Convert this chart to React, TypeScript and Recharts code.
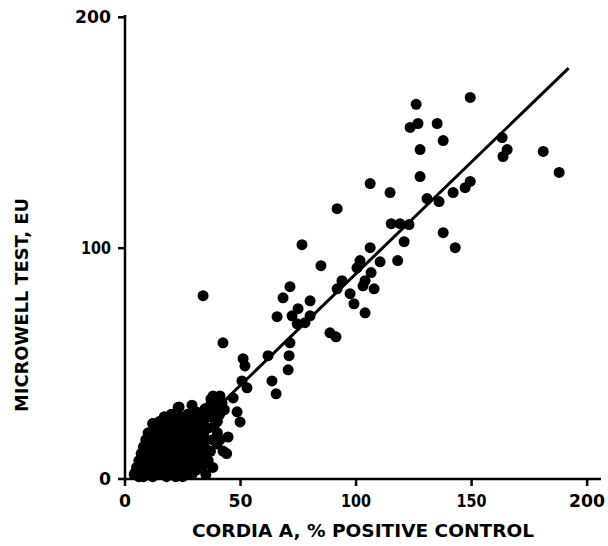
import { ScatterChart, Scatter, XAxis, YAxis, ReferenceLine } from "recharts";

// values, x = Cordia A (% positive control), y = microwell test (EU)
const cordiaA = [
  126, 149.4, 123.4, 126.8, 135.1, 137.7, 127.7, 127.7, 130.7, 135.9, 142, 147.2, 149.4,
  163.2, 165.4, 163.6, 181, 187.9, 119, 122.9, 115.2, 120.8, 137.7, 142.9, 118, 106.1,
  114.7, 91.8, 76.6, 106.1, 110.4, 101.7, 100.4, 84.8, 71.4, 68.4, 80.1, 93.9, 91.8, 106.5,
  103.9, 103, 107.8, 97.4, 99.1, 103.9, 74.9, 72.3, 65.8, 80.1, 74.5, 77.9, 88.7, 91.3,
  71.4, 61.9, 71, 70.6, 63.6, 65.4, 33.8, 42.4, 51.1, 51.9, 50.6, 52.8, 46.8, 41.1, 37.2,
  48.5, 49.8, 44.6, 42.4, 39.8, 33.8, 23.4, 12.1, 38.1, 34.6, 4.3,
  // dense cluster near the origin
  4, 5, 6, 6, 7, 7, 8, 8, 8, 9, 9, 10, 10, 10, 11, 11, 12, 12, 12, 12,
  13, 13, 13, 14, 14, 14, 15, 15, 15, 16, 16, 16, 17, 17, 17, 18, 18, 18, 19, 19, 19,
  20, 20, 20, 20, 21, 21, 22, 22, 22, 22, 23, 23, 24, 24, 24, 25, 25, 25,
  26, 26, 27, 27, 28, 28, 28, 29, 29, 30, 30, 30, 31, 31, 32, 32, 33, 33, 34, 35, 35,
  36, 36, 37, 38, 38, 39, 40, 40, 41, 42, 44, 38, 35, 29,
  5, 6, 7, 8, 9, 9, 10, 10, 11, 11, 11, 12, 12, 13, 13, 14, 14, 14, 15, 15, 16, 16,
  17, 17, 17, 18, 18, 18, 19, 19, 20, 20, 21, 21, 21, 21, 22, 22, 23, 23, 23, 24, 24,
  25, 25, 26, 26, 27, 27, 28, 28, 29, 29, 30, 31, 31, 32, 32, 33, 34, 34, 35, 36, 37,
  37, 39, 40, 41, 43,
];
const microwell = [
  162.3, 165.3, 152.3, 154, 154, 146.6, 142.7, 131, 121.5, 120.2, 124.1, 126.2, 128.9,
  147.9, 142.7, 139.7, 141.9, 132.8, 110.6, 110.2, 110.6, 102.8, 106.7, 100.2, 94.6, 128,
  124.1, 117.1, 101.5, 100.2, 94.1, 94.6, 91.5, 92.4, 83.3, 78.5, 77.2, 85.9, 82.4, 89.4,
  85.9, 83.7, 82.4, 80.3, 75.9, 72, 73.8, 70.7, 70.3, 70.7, 67.2, 67.7, 63.3, 61.6,
  59, 53.4, 53.4, 47.3, 42.5, 36.9, 79.4, 59, 52.1, 49, 42.5, 39.5, 35.1, 36, 34.7,
  29.1, 24.7, 18.2, 12.1, 15.2, 6.5, 31.2, 23.9, 36, 30.4, 2.6,
  2, 5, 1, 8, 3, 11, 6, 14, 1, 9, 17, 3, 12, 20, 7, 15, 1, 10, 18, 24,
  5, 13, 21, 8, 16, 2, 11, 19, 25, 4, 14, 22, 9, 17, 27, 1, 12, 20, 6, 15, 24,
  3, 10, 18, 28, 13, 22, 7, 1, 17, 26, 11, 31, 4, 20, 15, 9, 25, 1,
  13, 19, 5, 28, 10, 22, 16, 2, 25, 8, 19, 13, 29, 4, 16, 22, 10, 26, 19, 13, 30,
  22, 8, 27, 17, 33, 24, 20, 30, 28, 33, 11, 5, 2, 32,
  3, 5, 7, 10, 4, 13, 7, 16, 2, 11, 19, 5, 14, 9, 17, 12, 20, 24, 6, 15, 9, 18,
  4, 13, 21, 7, 16, 24, 10, 19, 14, 22, 5, 9, 18, 26, 12, 21, 7, 16, 24, 10, 27,
  13, 20, 7, 24, 17, 12, 4, 27, 20, 14, 24, 9, 18, 12, 28, 20, 6, 25, 17, 28, 12,
  32, 29, 25, 17, 30,
];

// fitted regression line end points
const fitX = [8, 192];
const fitY = [0, 178];

const xTicks = [0, 50, 100, 150, 200];
const yTicks = [0, 100, 200];

const points = cordiaA.map((x, i) => ({ x, y: microwell[i] }));

const FONT = "'DejaVu Sans', Verdana, sans-serif";

function tickWidth(s: string) {
  let w = 0;
  for (const c of s) w += c === "1" ? 6 : 12;
  return w;
}

const XTick = (props: any) => {
  const { x, y, payload } = props;
  const s = String(payload.value);
  return (
    <text
      x={x}
      y={y + 19}
      textAnchor="middle"
      fontFamily={FONT}
      fontWeight="bold"
      fontSize={17}
      fill="#000"
      textLength={tickWidth(s)}
      lengthAdjust="spacingAndGlyphs"
    >
      {s}
    </text>
  );
};

const YTick = (props: any) => {
  const { x, y, payload } = props;
  const s = String(payload.value);
  return (
    <text
      x={x - 5}
      y={y + 6}
      textAnchor="end"
      fontFamily={FONT}
      fontWeight="bold"
      fontSize={17}
      fill="#000"
      textLength={tickWidth(s)}
      lengthAdjust="spacingAndGlyphs"
    >
      {s}
    </text>
  );
};

const YLabel = () => (
  <text
    x={28}
    y={305}
    transform="rotate(-90 28 305)"
    textAnchor="middle"
    fontFamily={FONT}
    fontWeight="bold"
    fontSize={17}
    fill="#000"
    textLength={214}
    lengthAdjust="spacingAndGlyphs"
  >
    MICROWELL TEST, EU
  </text>
);

export default function App() {
  return (
    <div style={{ position: "absolute", left: 0, top: 0, background: "#fff" }}>
      <ScatterChart
        width={608}
        height={546}
        margin={{ top: 15, right: 7, left: 0, bottom: 0 }}
      >
        <XAxis
          type="number"
          dataKey="x"
          domain={[0, 206]}
          ticks={xTicks}
          height={67}
          stroke="#000"
          strokeWidth={2.5}
          tickSize={7}
          tick={<XTick />}
          label={{
            value: "CORDIA A, % POSITIVE CONTROL",
            position: "insideBottom",
            offset: 9,
            fill: "#000",
            fontFamily: FONT,
            fontWeight: "bold",
            fontSize: 17,
            textLength: 342,
            lengthAdjust: "spacingAndGlyphs",
          }}
        />
        <YAxis
          type="number"
          dataKey="y"
          domain={[0, 201]}
          ticks={yTicks}
          width={125}
          stroke="#000"
          strokeWidth={2.5}
          tickSize={7}
          tick={<YTick />}
          label={{ content: <YLabel /> }}
        />
        <ReferenceLine
          segment={[
            { x: fitX[0], y: fitY[0] },
            { x: fitX[1], y: fitY[1] },
          ]}
          stroke="#000"
          strokeWidth={3}
        />
        <Scatter
          data={points}
          fill="#000"
          isAnimationActive={false}
          shape={(p: any) => <circle cx={p.cx} cy={p.cy} r={5.5} fill="#000" />}
        />
      </ScatterChart>
    </div>
  );
}
